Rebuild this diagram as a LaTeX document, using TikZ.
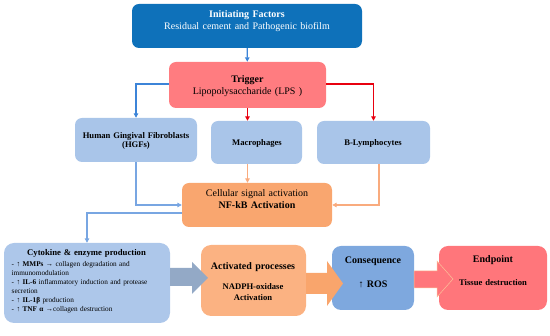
\documentclass[tikz,border=0pt]{standalone}
\usepackage{fontspec}
\setmainfont{Liberation Serif}
\usetikzlibrary{arrows.meta,calc}
\definecolor{cInit}{HTML}{0E71BA}
\definecolor{cTrig}{HTML}{FF7C80}
\definecolor{cCell}{HTML}{A9C5E9}
\definecolor{cNF}{HTML}{F9A66F}
\definecolor{cCyto}{HTML}{ADC7EA}
\definecolor{cAct}{HTML}{FBB282}
\definecolor{cCons}{HTML}{7EA8DE}
\definecolor{cEnd}{HTML}{FF767B}
\definecolor{cGray}{HTML}{93A9C6}
\definecolor{cOrA}{HTML}{F9A56C}
\definecolor{lBlue}{HTML}{3C84D8}
\definecolor{lRed}{HTML}{E8000F}
\definecolor{lLBlue}{HTML}{78A6E2}
\definecolor{lLOr}{HTML}{F9AB7E}
\begin{document}
\begin{tikzpicture}[x=1pt,y=-1pt,
  box/.style={rounded corners=7pt, inner sep=0pt, draw=none},
  txt/.style={inner sep=0pt, anchor=base, align=center, text width=220pt},
  conn/.style={line width=1.3pt, -{Triangle[length=4.5pt,width=4.5pt]}},
  lconn/.style={line width=1.1pt, -{Triangle[length=4.5pt,width=4.5pt]}},
  fT/.style={font=\fontsize{10}{11.7}\selectfont},
  fS/.style={font=\fontsize{8.6}{9.5}\selectfont\bfseries},
]
\useasboundingbox (0,0) rectangle (550,336);

% boxes
\node[box, fill=cInit, minimum width=230pt, minimum height=44pt] (init) at (247,26) {};
\node[box, fill=cTrig, minimum width=157pt, minimum height=46pt] (trig) at (247.5,85) {};
\node[box, fill=cCell, minimum width=122pt, minimum height=44pt] (hgf) at (136,140) {};
\node[box, fill=cCell, minimum width=91pt, minimum height=43pt] (mac) at (256.5,142.5) {};
\node[box, fill=cCell, minimum width=113pt, minimum height=43pt] (blym) at (373.5,142.5) {};
\node[box, fill=cNF, minimum width=150pt, minimum height=44pt] (nfkb) at (257,205) {};
\node[box, fill=cCyto, rounded corners=10pt, minimum width=166pt, minimum height=80pt] (cyto) at (87,283) {};
\node[box, fill=cAct, rounded corners=10pt, minimum width=105pt, minimum height=71pt] (act) at (253.5,280.5) {};
\node[box, fill=cCons, rounded corners=9pt, minimum width=82pt, minimum height=64pt] (cons) at (373,278) {};
\node[box, fill=cEnd, rounded corners=9pt, minimum width=108pt, minimum height=64pt] (endp) at (493,278) {};

% texts
\node[txt, fT, text=white] (initT) at (247,17.5) {\textbf{Initiating Factors}\\Residual cement and Pathogenic biofilm};
\node[txt, fT] (trigT) at (247.5,82.5) {\textbf{Trigger}\\Lipopolysaccharide (LPS )};
\node[txt, fS] (hgfT) at (136,138.5) {Human Gingival Fibroblasts\\(HGFs)};
\node[txt, fS] (macT) at (257,145.5) {Macrophages};
\node[txt, fS] (blymT) at (373,146) {B-Lymphocytes};
\node[txt, font=\fontsize{10}{12}\selectfont] (nfkbT) at (257,196.5) {Cellular signal activation\\\textbf{NF-kB Activation}};
\node[txt, font=\fontsize{8.7}{9}\selectfont\bfseries] (cytoT) at (86.5,256) {Cytokine \& enzyme production};
\node[txt, anchor=base west, align=left, text width=160pt, font=\fontsize{7.25}{9.1}\selectfont] (cytoL) at (11.5,266.5)
  {- ↑ \textbf{MMPs} → collagen degradation and\\immunomodulation\\- ↑ \textbf{IL-6} inflammatory induction and protease\\secretion\\- ↑ \textbf{IL-1β} production\\- ↑ \textbf{TNF α} →collagen destruction};
\node[txt, font=\fontsize{10}{12}\selectfont\bfseries] (actT) at (253,269.5) {Activated processes};
\node[txt, font=\fontsize{8.6}{11}\selectfont\bfseries] (actS) at (253,290) {NADPH-oxidase\\Activation};
\node[txt, font=\fontsize{10}{12}\selectfont\bfseries] (consT) at (373,264) {Consequence};
\node[txt, font=\fontsize{10}{12}\selectfont\bfseries] (consS) at (373,287.5) {↑ ROS};
\node[txt, font=\fontsize{10}{12}\selectfont\bfseries] (endT) at (493,262.5) {Endpoint};
\node[txt, font=\fontsize{8.6}{11}\selectfont\bfseries] (endS) at (493,286) {Tissue destruction};

% connectors
\draw[conn, lBlue] (init) -- (trig);
\draw[conn, lBlue] ($(trig.west)+(0,-1)$) -| (hgf.north);
\draw[conn, lRed] ($(trig.east)+(0,-1)$) -| (blym.north);
\draw[conn, lRed] (trig.south) -- (trig.south |- mac.north);
\draw[lconn, lLOr] (mac.south -| trig.south) -- (nfkb.north -| trig.south);
\draw[lconn, lLBlue] (hgf.south) |- (nfkb.west);
\draw[lconn, lLOr] ($(blym.south)+(5.5,0)$) |- (nfkb.east);
\draw[lconn, lLBlue] ($(nfkb.west)+(0,8)$) -| (cyto.north);

% block arrows
\fill[cGray] (170,268) -- (192,268) -- (192,262) -- (208,278) -- (192,294) -- (192,286) -- (170,286) -- cycle;
\fill[cOrA] (306,273) -- (327,273) -- (327,261) -- (343,283.5) -- (327,306) -- (327,294) -- (306,294) -- cycle;
\filldraw[fill=cEnd, draw=cNF!70, line width=0.5pt] (414,271) -- (437,271) -- (437,261) -- (453,279) -- (437,297) -- (437,288) -- (414,288) -- cycle;
\end{tikzpicture}
\end{document}
